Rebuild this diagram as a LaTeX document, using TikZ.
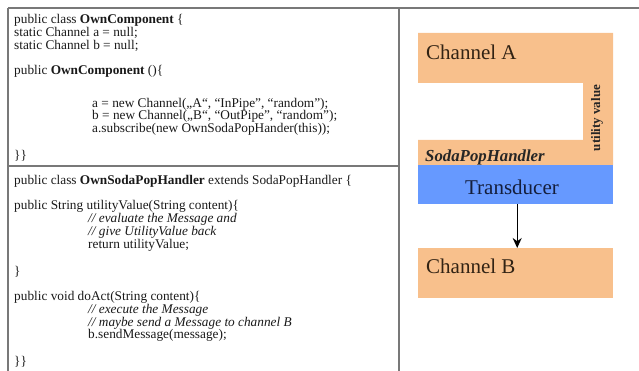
\documentclass[tikz,border=0pt]{standalone}
\usepackage{fontspec}
\setmainfont{Liberation Serif}
\newfontfamily\bigserif{Liberation Serif}
\usetikzlibrary{arrows.meta}
\definecolor{peach}{RGB}{248,192,140}
\definecolor{tblue}{RGB}{102,153,255}
\definecolor{framegray}{RGB}{120,120,120}
\definecolor{navytext}{RGB}{20,30,60}
\definecolor{browntext}{RGB}{50,35,20}
\begin{document}
\begin{tikzpicture}[x=1pt,y=-1pt,
  codeline/.style={anchor=west, inner sep=0pt, font=\rmfamily\fontsize{13.3}{14}\selectfont, text=black!90},
  frameline/.style={draw=framegray, line width=1.6pt},
  bigtext/.style={inner sep=0pt, font=\bigserif\fontsize{21}{23}\selectfont, text=browntext},
  flow/.style={-{Stealth[length=10pt,width=9pt]}, line width=1.4pt}]
\useasboundingbox (0,0) rectangle (639,371);
% frame
\draw[frameline] (8,8) -- (639,8);
\draw[frameline] (8,8) -- (8,371);
\draw[frameline] (399,8) -- (399,371);
\draw[frameline] (8,166) -- (399,166);
% panel 1 code
\node[codeline] (c1) at (14,20) {public class \textbf{OwnComponent} \{};
\node[codeline] (c2) at (14,32.9) {static Channel a = null;};
\node[codeline] (c3) at (14,45.8) {static Channel b = null;};
\node[codeline] (c4) at (14,71.6) {public \textbf{OwnComponent} ()\{};
\node[codeline] (c5) at (92,103.9) {a = new Channel(„A“, “InPipe”, “random”);};
\node[codeline] (c6) at (92,116.8) {b = new Channel(„B“, “OutPipe”, “random”);};
\node[codeline] (c7) at (92,129.7) {a.subscribe(new OwnSodaPopHander(this));};
\node[codeline] (c8) at (14,155.5) {\}\}};
% panel 2 code
\node[codeline] (d1) at (14,181) {public class \textbf{OwnSodaPopHandler} extends SodaPopHandler \{};
\node[codeline] (d2) at (14,206.8) {public String utilityValue(String content)\{};
\node[codeline] (d3) at (88,219.7) {\textit{// evaluate the Message and}};
\node[codeline] (d4) at (88,232.6) {\textit{// give UtilityValue back}};
\node[codeline] (d5) at (88,245.5) {return utilityValue;};
\node[codeline] (d6) at (14,271.3) {\}};
\node[codeline] (d7) at (14,297.1) {public void doAct(String content)\{};
\node[codeline] (d8) at (88,310) {\textit{// execute the Message}};
\node[codeline] (d9) at (88,322.9) {\textit{// maybe send a Message to channel B}};
\node[codeline] (d10) at (88,335.8) {b.sendMessage(message);};
\node[codeline] (d11) at (14,361.6) {\}\}};
% right panel
\fill[peach] (418,33) -- (613,33) -- (613,165) -- (418,165) -- (418,140) -- (583,140) -- (583,83) -- (418,83) -- cycle;
\node[bigtext, anchor=west] (chA) at (426,52) {Channel A};
\node[inner sep=0pt, rotate=90, font=\rmfamily\fontsize{13}{14}\selectfont\bfseries, text=black!85] (uv) at (597,118) {utility value};
\node[inner sep=0pt, anchor=west, font=\rmfamily\fontsize{16.8}{18}\selectfont\bfseries\itshape, text=black!85] (sph) at (425,157) {SodaPopHandler};
\node[fill=tblue, minimum width=195pt, minimum height=39pt, inner sep=0pt, anchor=north west] (trans) at (418,165) {};
\node[bigtext, text=navytext] (transt) at (512,187) {Transducer};
\node[fill=peach, minimum width=195pt, minimum height=50pt, inner sep=0pt, anchor=north west] (chB) at (418,248) {};
\node[bigtext, anchor=west] (chBt) at (426,266) {Channel B};
\draw[flow] ([xshift=1.5pt]trans.south) -- ([xshift=1.5pt]chB.north);
\end{tikzpicture}
\end{document}
